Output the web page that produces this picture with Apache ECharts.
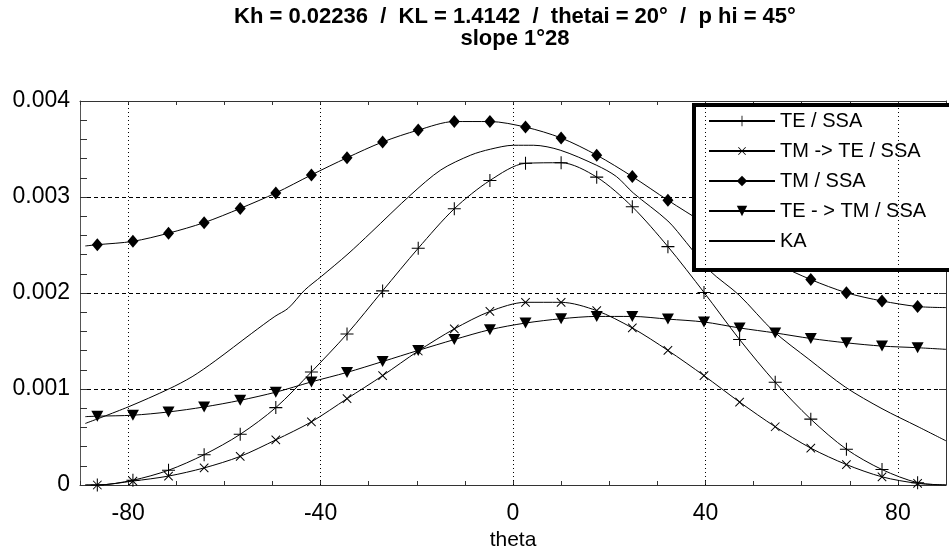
<!DOCTYPE html>
<html>
<head>
<meta charset="utf-8">
<script src="https://cdn.jsdelivr.net/npm/echarts@6/dist/echarts.min.js"></script>
<style>
  html, body { margin: 0; padding: 0; background: #fff; }
  #chart { width: 949px; height: 556px; }
</style>
</head>
<body>
<div id="chart"></div>
<script>
// Scattering angle positions where the SSA curves carry markers (degrees)
const thetaMarks = [-86.4, -79.0, -71.6, -64.2, -56.7, -49.3, -41.9, -34.5, -27.1, -19.7, -12.2, -4.8,
                    2.6, 10.0, 17.4, 24.8, 32.2, 39.7, 47.1, 54.5, 61.9, 69.3, 76.7, 84.1];
const thetaStart = -88.9;
const thetaEnd = 90;

// SSA cross sections at the marker angles
const teSsa = [0.000000, 0.000050, 0.000154, 0.000316, 0.000528, 0.000806, 0.001178, 0.001574,
               0.002022, 0.002466, 0.002878, 0.003172, 0.003351, 0.003357, 0.003207, 0.002898,
               0.002483, 0.002006, 0.001515, 0.001070, 0.000686, 0.000373, 0.000161, 0.000024];
const tmTeSsa = [0.000000, 0.000041, 0.000093, 0.000178, 0.000298, 0.000470, 0.000658, 0.000899,
                 0.001139, 0.001396, 0.001626, 0.001808, 0.001903, 0.001903, 0.001816, 0.001636,
                 0.001402, 0.001139, 0.000864, 0.000607, 0.000384, 0.000213, 0.000085, 0.000017];
const tmSsa = [0.002503, 0.002538, 0.002623, 0.002733, 0.002881, 0.003042, 0.003230, 0.003409,
               0.003573, 0.003697, 0.003786, 0.003786, 0.003728, 0.003615, 0.003436, 0.003213,
               0.002966, 0.002730, 0.002510, 0.002310, 0.002140, 0.002003, 0.001917, 0.001859];
const teTmSsa = [0.000717, 0.000727, 0.000761, 0.000813, 0.000882, 0.000967, 0.001074, 0.001173,
                 0.001286, 0.001402, 0.001515, 0.001618, 0.001687, 0.001732, 0.001756, 0.001756,
                 0.001728, 0.001698, 0.001636, 0.001584, 0.001526, 0.001481, 0.001447, 0.001430];

// Curve end values [at thetaStart, at thetaEnd]
const teSsaEnds = [0.0, 0.0];
const tmTeSsaEnds = [0.0, 0.0];
const tmSsaEnds = [0.002490, 0.001848];
const teTmSsaEnds = [0.000712, 0.001413];

// Kirchhoff approximation (no markers)
const thetaKA = [-88.9, -80, -71.5, -66.7, -61.9, -54.3, -49.5, -46.7, -43.3, -39.8, -34.3, -29.5,
                 -21.2, -15.0, -8.8, -4.7, 0.1, 4.3, 9.8, 17.4, 21.5, 25, 32.2, 36, 40.8, 47,
                 54.2, 61.5, 69.1, 76.7, 84.2, 90];
const ka = [0.000641, 0.000813, 0.001001, 0.001128, 0.001293, 0.001580, 0.001756, 0.001842,
            0.002030, 0.002174, 0.002407, 0.002631, 0.003025, 0.003282, 0.003436, 0.003498,
            0.003539, 0.003539, 0.003488, 0.003330, 0.003213, 0.003042, 0.002750, 0.002528,
            0.002236, 0.001978, 0.001600, 0.001310, 0.001019, 0.000795, 0.000607, 0.000460];

// Axis ticks and labels
const xLabelValues = [-80, -40, 0, 40, 80];
const xGridValues = [-80, -40, 0, 40, 80];
const yTicks = [0, 0.001, 0.002, 0.003, 0.004];

const seriesNames = ['TE / SSA', 'TM -> TE / SSA', 'TM / SSA', 'TE - > TM / SSA', 'KA'];

const titleText = 'Kh = 0.02236  /  KL = 1.4142  /  thetai = 20°  /  p hi = 45°\nslope 1°28';

const FONT = '"Liberation Sans", Arial, Helvetica, sans-serif';
const PLUS = 'path://M0,4.6H10V5.4H0ZM4.6,0H5.4V10H4.6Z';

function withEnds(values, ends) {
  const pts = [{ value: [thetaStart, ends[0]], symbol: 'none' }];
  thetaMarks.forEach((t, i) => pts.push([t, values[i]]));
  pts.push({ value: [thetaEnd, ends[1]], symbol: 'none' });
  return pts;
}

const lineBase = {
  type: 'line',
  smooth: 0.3,
  lineStyle: { color: '#000', width: 1 },
  itemStyle: { color: '#000' },
  emphasis: { disabled: true },
  animation: false
};

const chart = echarts.init(document.getElementById('chart'), null, { renderer: 'canvas' });

chart.setOption({
  backgroundColor: '#fff',
  animation: false,
  title: {
    text: titleText,
    left: 515,
    top: 6,
    textAlign: 'center',
    padding: 0,
    textStyle: { fontFamily: FONT, fontWeight: 'bold', fontSize: 22, lineHeight: 22, color: '#000' }
  },
  grid: { left: 80, top: 101, width: 871, height: 388, show: false },
  legend: {
    orient: 'vertical',
    left: 694,
    top: 105,
    padding: [6, 40, 19, 14],
    itemWidth: 66,
    itemHeight: 13,
    itemGap: 10,
    backgroundColor: '#fff',
    borderColor: '#000',
    borderWidth: 4,
    borderRadius: 0,
    selectedMode: false,
    textStyle: { fontFamily: FONT, fontSize: 20, lineHeight: 18, color: '#000' },
    data: [
      { name: seriesNames[0] },
      { name: seriesNames[1] },
      { name: seriesNames[2] },
      { name: seriesNames[3] },
      { name: seriesNames[4], itemStyle: { opacity: 0 } }
    ]
  },
  xAxis: [
    {
      type: 'value',
      min: -90,
      max: 90,
      interval: 10,
      name: 'theta',
      nameLocation: 'middle',
      nameGap: 45,
      nameTextStyle: { fontFamily: FONT, fontSize: 21, color: '#000' },
      axisLine: { show: true, onZero: false, lineStyle: { color: '#333', width: 1 } },
      axisTick: { show: true, inside: true, length: 4, lineStyle: { color: '#333' } },
      axisLabel: {
        margin: 17,
        fontFamily: FONT,
        fontSize: 23,
        color: '#000',
        formatter: v => (xLabelValues.indexOf(v) >= 0 ? String(v) : '')
      },
      splitLine: { show: false }
    },
    {
      type: 'value',
      position: 'top',
      min: -90,
      max: 90,
      interval: 10,
      axisLine: { show: true, onZero: false, lineStyle: { color: '#333', width: 1 } },
      axisTick: { show: true, inside: true, length: 4, lineStyle: { color: '#333' } },
      axisLabel: { show: false },
      splitLine: { show: false }
    }
  ],
  yAxis: [
    {
      type: 'value',
      min: 0,
      max: 0.004,
      interval: 0.001,
      axisLine: { show: true, onZero: false, lineStyle: { color: '#555', width: 1 } },
      axisTick: { show: true, inside: true, length: 7, lineStyle: { color: '#333' } },
      minorTick: { show: true, splitNumber: 5, length: 7, lineStyle: { color: '#333' } },
      axisLabel: {
        margin: 10,
        fontFamily: FONT,
        fontSize: 23,
        color: '#000',
        formatter: v => {
          const t = yTicks.find(y => Math.abs(y - v) < 1e-9);
          return t === 0 ? '0' : t.toFixed(3);
        }
      },
      splitLine: { show: true, lineStyle: { color: '#000', width: 1, type: [4, 3] } }
    },
    {
      type: 'value',
      position: 'right',
      min: 0,
      max: 0.004,
      interval: 0.001,
      axisLine: { show: true, onZero: false, lineStyle: { color: '#333', width: 1 } },
      axisTick: { show: true, inside: true, length: 7 },
      axisLabel: { show: false },
      splitLine: { show: false }
    }
  ],
  series: [
    Object.assign({}, lineBase, {
      name: seriesNames[0],
      symbol: PLUS,
      symbolSize: 13,
      data: withEnds(teSsa, teSsaEnds),
      z: 3
    }),
    Object.assign({}, lineBase, {
      name: seriesNames[1],
      symbol: PLUS,
      symbolSize: 12,
      symbolRotate: 45,
      data: withEnds(tmTeSsa, tmTeSsaEnds),
      z: 3
    }),
    Object.assign({}, lineBase, {
      name: seriesNames[2],
      symbol: 'diamond',
      symbolSize: [11, 13],
      data: withEnds(tmSsa, tmSsaEnds),
      z: 3
    }),
    Object.assign({}, lineBase, {
      name: seriesNames[3],
      symbol: 'triangle',
      symbolSize: [12, 11],
      symbolRotate: 180,
      data: withEnds(teTmSsa, teTmSsaEnds),
      z: 3
    }),
    Object.assign({}, lineBase, {
      name: seriesNames[4],
      symbol: 'none',
      showSymbol: false,
      data: thetaKA.map((t, i) => [t, ka[i]]),
      z: 3,
      markLine: {
        silent: true,
        symbol: 'none',
        label: { show: false },
        lineStyle: { color: '#000', width: 1, type: [1, 3] },
        emphasis: { disabled: true },
        data: xGridValues.map(v => ({ xAxis: v }))
      }
    })
  ]
});
</script>
</body>
</html>
